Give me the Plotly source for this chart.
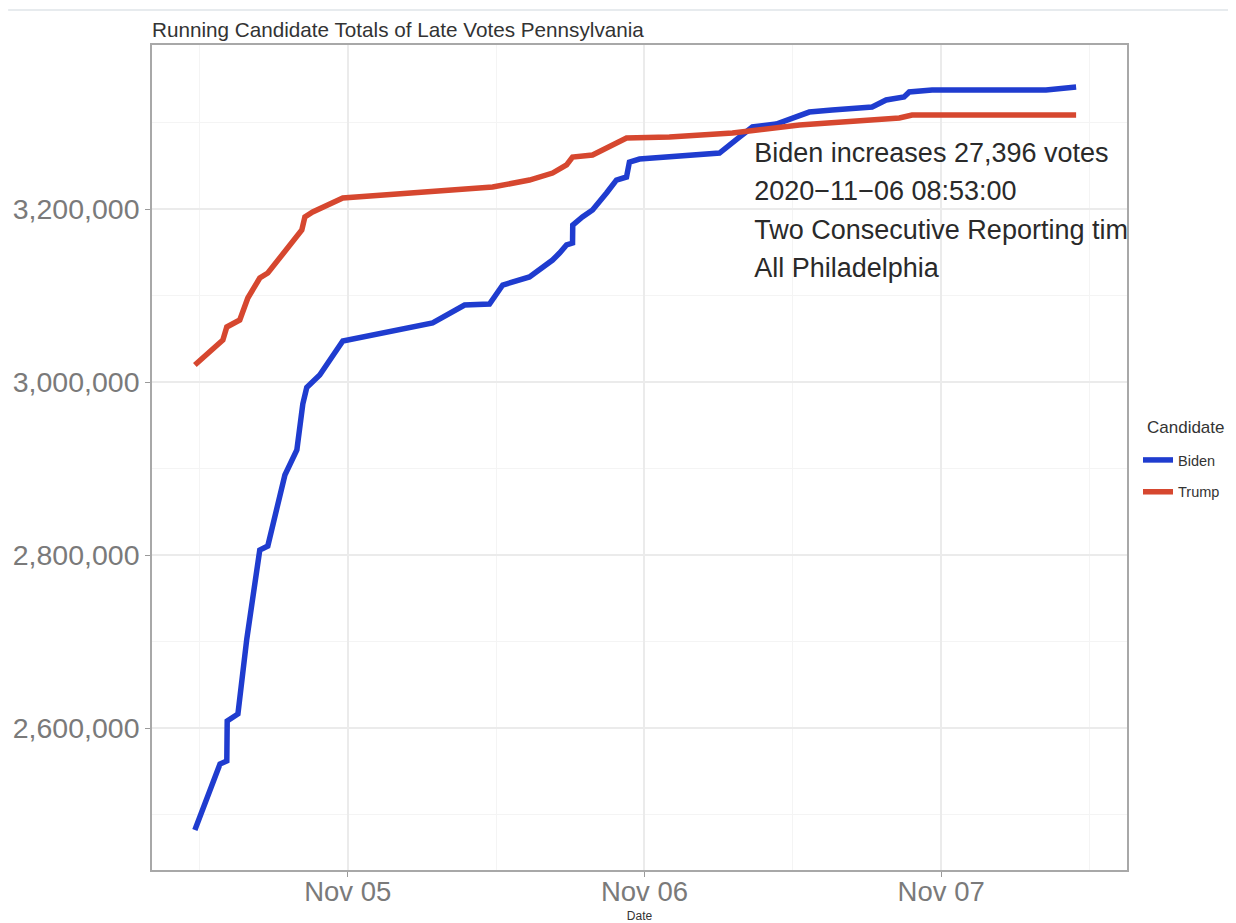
import plotly.graph_objects as go

# ---------------- data ----------------
biden_time = [
    "2020-11-04 11:38", "2020-11-04 13:40", "2020-11-04 14:13", "2020-11-04 14:15",
    "2020-11-04 15:07", "2020-11-04 15:50", "2020-11-04 16:53", "2020-11-04 17:32",
    "2020-11-04 18:55", "2020-11-04 19:53", "2020-11-04 20:22", "2020-11-04 20:41",
    "2020-11-04 21:44", "2020-11-04 23:36", "2020-11-05 06:52", "2020-11-05 09:27",
    "2020-11-05 11:28", "2020-11-05 12:02", "2020-11-05 12:32", "2020-11-05 14:42",
    "2020-11-05 16:34", "2020-11-05 17:08", "2020-11-05 17:42", "2020-11-05 18:11",
    "2020-11-05 18:12", "2020-11-05 18:59", "2020-11-05 19:48", "2020-11-05 20:56",
    "2020-11-05 21:44", "2020-11-05 22:33", "2020-11-05 22:47", "2020-11-05 23:36",
    "2020-11-06 06:04", "2020-11-06 07:41", "2020-11-06 08:44", "2020-11-06 10:40",
    "2020-11-06 12:32", "2020-11-06 13:20", "2020-11-06 15:11", "2020-11-06 18:25",
    "2020-11-06 19:33", "2020-11-06 21:00", "2020-11-06 21:25", "2020-11-06 23:16",
    "2020-11-07 08:29", "2020-11-07 10:55",
]
biden_votes = [
    2482100, 2558400, 2561900, 2608100,
    2616200, 2702900, 2805800, 2810400,
    2892500, 2921400, 2974600, 2993600,
    3008100, 3047400, 3068200, 3089000,
    3090200, 3102900, 3112100, 3121400,
    3141000, 3149100, 3158400, 3160700,
    3181500, 3190800, 3198800, 3218500,
    3233500, 3237000, 3254300, 3257800,
    3264700, 3283200, 3294800, 3298300,
    3308700, 3312100, 3314500, 3317900,
    3326000, 3329500, 3335300, 3337600,
    3337600, 3341000,
]

trump_time = [
    "2020-11-04 11:38", "2020-11-04 13:54", "2020-11-04 14:13", "2020-11-04 15:16",
    "2020-11-04 15:55", "2020-11-04 16:53", "2020-11-04 17:32", "2020-11-04 19:43",
    "2020-11-04 20:17", "2020-11-04 20:32", "2020-11-04 21:10", "2020-11-04 23:36",
    "2020-11-05 05:49", "2020-11-05 11:43", "2020-11-05 14:42", "2020-11-05 16:34",
    "2020-11-05 17:42", "2020-11-05 18:11", "2020-11-05 19:48", "2020-11-05 20:56",
    "2020-11-05 22:33", "2020-11-06 02:01", "2020-11-06 07:07", "2020-11-06 12:32",
    "2020-11-06 15:45", "2020-11-06 20:37", "2020-11-06 21:39", "2020-11-07 10:55",
]
trump_votes = [
    3019700, 3048600, 3063600, 3071700,
    3097100, 3120200, 3126000, 3164200,
    3175700, 3190800, 3196500, 3212700,
    3219700, 3225400, 3233500, 3241600,
    3250900, 3260100, 3262400, 3270500,
    3282100, 3283200, 3287900, 3297100,
    3300600, 3305200, 3308700, 3308700,
]

x_tick_vals = ["2020-11-05", "2020-11-06", "2020-11-07"]
x_tick_text = ["Nov 05", "Nov 06", "Nov 07"]
x_minor_vals = ["2020-11-04 12:00", "2020-11-05 12:00", "2020-11-06 12:00", "2020-11-07 12:00"]
y_tick_vals = [2600000, 2800000, 3000000, 3200000]
y_tick_text = ["2,600,000", "2,800,000", "3,000,000", "3,200,000"]
y_minor_vals = [2500000, 2700000, 2900000, 3100000, 3300000]

note_lines = [
    "Biden increases 27,396 votes",
    "2020\u221211\u221206 08:53:00",
    "Two Consecutive Reporting times",
    "All Philadelphia",
]
note_time = "2020-11-06 08:53"
note_y = [3262400, 3218500, 3173400, 3129500]

x_range = ["2020-11-04 08:10", "2020-11-07 15:02"]
y_range = [2435850, 3389600]

BLUE = "#1f3ccf"
RED = "#d6472f"
FONT = "Liberation Sans, Arial, sans-serif"

# page has an 8px body offset; figure sized so the plot area lands at 152..1128 x 45..870
W, H = 1228, 915
ML, MR, MT, MB = 144, 108, 37, 53
PW, PH = W - ML - MR, H - MT - MB

fig = go.Figure()
fig.add_trace(go.Scatter(
    x=biden_time, y=biden_votes, mode="lines", name="Biden",
    line=dict(color=BLUE, width=5.5), legendgroup="b",
))
fig.add_trace(go.Scatter(
    x=trump_time, y=trump_votes, mode="lines", name="Trump",
    line=dict(color=RED, width=5.5), legendgroup="t",
))
fig.add_trace(go.Scatter(
    x=[note_time] * len(note_lines), y=note_y, text=note_lines,
    mode="text", textposition="middle right", showlegend=False,
    textfont=dict(family=FONT, size=27, color="#2a2a2a"), cliponaxis=True,
    hoverinfo="skip",
))

fig.update_layout(
    width=W, height=H,
    margin=dict(l=ML, r=MR, t=MT, b=MB),
    paper_bgcolor="white", plot_bgcolor="white",
    font=dict(family=FONT, color="#333333"),
    title=dict(
        text="Running Candidate Totals of Late Votes Pennsylvania",
        x=ML / W, xanchor="left", y=1 - 22 / H, yanchor="middle",
        font=dict(size=20.7, color="#333333"),
    ),
    showlegend=True,
    legend=dict(
        font=dict(size=14.5, color="#333333"),
        x=1 + 10 / PW, xanchor="left", y=1 - (444 - MT - 8) / PH, yanchor="top",
        traceorder="grouped", tracegroupgap=10,
        bgcolor="rgba(0,0,0,0)",
    ),
    annotations=[dict(
        text="Candidate", xref="paper", yref="paper",
        x=1 + 18 / PW, xanchor="left", y=1 - (427 - MT - 8) / PH, yanchor="middle",
        showarrow=False, font=dict(size=17, color="#333333"),
    )],
)

fig.update_xaxes(
    type="date", range=x_range, automargin=False,
    tickvals=x_tick_vals, ticktext=x_tick_text,
    tickfont=dict(size=27.5, color="#7a7a7a"),
    ticks="outside", ticklen=5, tickcolor="#9a9a9a",
    ticklabelstandoff=-9,
    showgrid=True, gridcolor="#ebebeb", gridwidth=1.5,
    minor=dict(tickvals=x_minor_vals, showgrid=True, gridcolor="#f4f4f4", gridwidth=1, ticks=""),
    showline=True, linecolor="#a8a8a8", linewidth=1.5, mirror=True,
    zeroline=False,
    title=dict(text="Date", font=dict(size=12, color="#333333"), standoff=13),
)
fig.update_yaxes(
    range=y_range, automargin=False,
    tickvals=y_tick_vals, ticktext=y_tick_text,
    tickfont=dict(size=28.5, color="#7a7a7a"),
    ticks="outside", ticklen=5, tickcolor="#9a9a9a",
    showgrid=True, gridcolor="#ebebeb", gridwidth=1.5,
    minor=dict(tickvals=y_minor_vals, showgrid=True, gridcolor="#f4f4f4", gridwidth=1, ticks=""),
    showline=True, linecolor="#a8a8a8", linewidth=1.5, mirror=True,
    zeroline=False,
)

# faint screen-edge line at the top of the image
fig.add_shape(type="line", xref="paper", yref="paper",
              x0=-ML / PW, x1=1 + MR / PW, y0=1 + 35 / PH, y1=1 + 35 / PH,
              line=dict(color="#dfe4e8", width=1.5))

fig.write_html("out.html")
